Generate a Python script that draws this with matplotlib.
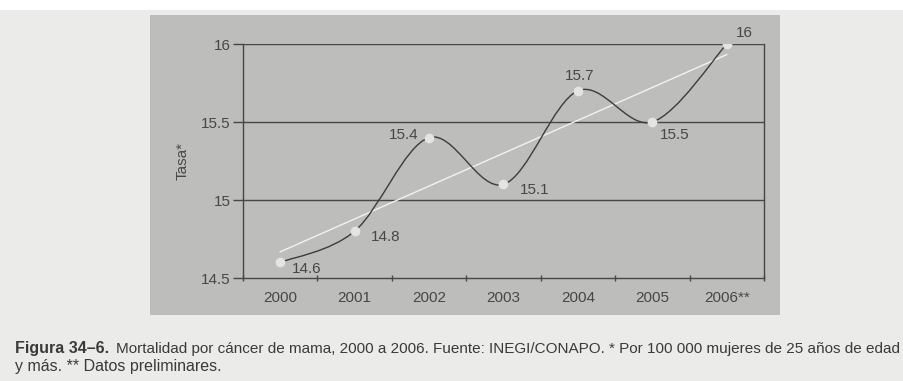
import numpy as np
import matplotlib.pyplot as plt
from matplotlib.path import Path
from matplotlib.patches import PathPatch, Rectangle

plt.rcParams['font.family'] = ['Liberation Sans', 'DejaVu Sans']

# Tasa de mortalidad por cáncer de mama
years = ["2000", "2001", "2002", "2003", "2004", "2005", "2006**"]
rates = [14.6, 14.8, 15.4, 15.1, 15.7, 15.5, 16.0]
# desplazamiento (px) de cada etiqueta respecto a su punto
label_offsets = [(26, -7), (31, -6), (-25, 3), (31, -6), (2, 15), (22, -13), (18, 11)]

ink = "#474747"
panel_gray = "#bdbdbb"
page = "#ebebe9"

fig = plt.figure(figsize=(9.04, 3.81), dpi=100, facecolor=page)

# franja blanca superior y recuadro gris del gráfico
fig.patches.append(Rectangle((0, 1 - 10 / 381), 1, 10 / 381, transform=fig.transFigure,
                             facecolor="white", edgecolor="none", zorder=-2))
fig.patches.append(Rectangle((150 / 904, 1 - 315 / 381), 630 / 904, 300 / 381,
                             transform=fig.transFigure, facecolor=panel_gray,
                             edgecolor="none", zorder=-2))

ax = fig.add_axes([243 / 904, 1 - 278 / 381, 521 / 904, 234 / 381])
ax.set_facecolor("none")
ax.set_zorder(1)

x = np.arange(len(rates))
y = np.array(rates)

# curva suavizada (Bezier) que pasa por cada punto
pts = np.column_stack([x, y])
ext = np.vstack([pts[0], pts, pts[-1]])
verts = [tuple(pts[0])]
codes = [Path.MOVETO]
for i in range(len(pts) - 1):
    c1 = pts[i] + (ext[i + 2] - ext[i]) / 6
    c2 = pts[i + 1] - (ext[i + 3] - ext[i + 1]) / 6
    verts += [tuple(c1), tuple(c2), tuple(pts[i + 1])]
    codes += [Path.CURVE4] * 3
ax.add_patch(PathPatch(Path(verts, codes), fill=False, edgecolor="#3c3c3c",
                       lw=1.0, zorder=3))

# línea de tendencia lineal
slope, intercept = np.polyfit(x, y, 1)
ax.plot(x, slope * x + intercept, color="#f2f2f2", lw=1.0, zorder=2)

ax.plot(x, y, linestyle="none", marker="o", markersize=6, color="#e4e4e2",
        markeredgecolor="#e4e4e2", zorder=4)

for xi, yi, (dx, dy) in zip(x, y, label_offsets):
    ax.annotate(f"{yi:g}", (xi, yi), xytext=(dx, dy), textcoords="offset pixels",
                ha="center", va="center", fontsize=11, color=ink)

ax.set_xlim(-0.5, len(rates) - 0.5)
ax.set_ylim(14.5, 16)
ax.set_yticks([14.5, 15, 15.5, 16])
ax.set_yticklabels(["14.5", "15", "15.5", "16"])
ax.set_xticks(x)
ax.set_xticklabels(years)
ax.set_xticks(np.arange(-0.5, len(rates)), minor=True)
ax.tick_params(axis="x", which="major", length=0, pad=9, labelsize=11, labelcolor=ink)
ax.tick_params(axis="x", which="minor", length=4, width=1, color=ink, direction="inout")
ax.tick_params(axis="y", length=7, width=1, color=ink, pad=2, labelsize=11, labelcolor=ink)

for yy in [15, 15.5, 16]:
    ax.axhline(yy, color=ink, lw=1.0, zorder=1)

for side in ["left", "bottom", "right"]:
    ax.spines[side].set_color(ink)
    ax.spines[side].set_linewidth(1.0)
ax.spines["top"].set_visible(False)

ax.set_ylabel("Tasa*", fontsize=11, color=ink, labelpad=8)

# pie de figura
fig.text(15 / 904, 1 - 349 / 381, "Figura 34–6.", fontsize=11.5, fontweight="bold",
         color="#3a3a3a", va="center")
fig.text(116 / 904, 1 - 349 / 381,
         "Mortalidad por cáncer de mama, 2000 a 2006. Fuente: INEGI/CONAPO. "
         "* Por 100 000 mujeres de 25 años de edad",
         fontsize=10.95, color="#3a3a3a", va="center")
fig.text(15 / 904, 1 - 366 / 381, "y más. ** Datos preliminares.", fontsize=11.5,
         color="#3a3a3a", va="center")

fig.savefig("out.png", dpi=100, facecolor=page)
